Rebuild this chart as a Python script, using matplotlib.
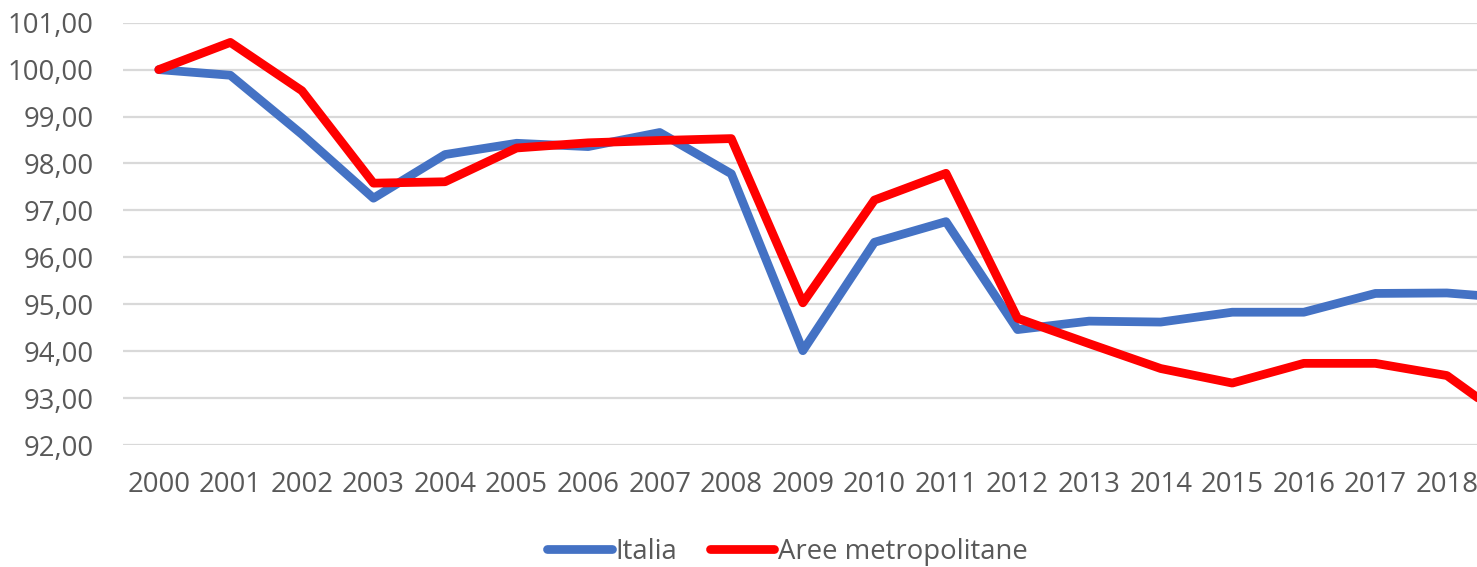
import matplotlib
matplotlib.use("Agg")
from matplotlib import pyplot as plt

years = list(range(2000, 2020))
italia = [100.00, 99.88, 98.62, 97.26, 98.19, 98.43, 98.36, 98.66, 97.78, 94.01,
          96.32, 96.76, 94.46, 94.64, 94.62, 94.83, 94.83, 95.23, 95.24, 95.12]
aree_metro = [100.00, 100.58, 99.55, 97.58, 97.61, 98.33, 98.44, 98.49, 98.53, 95.03,
              97.22, 97.79, 94.70, 94.16, 93.63, 93.32, 93.74, 93.74, 93.48, 92.38]
y_ticks = [92, 93, 94, 95, 96, 97, 98, 99, 100, 101]
x_labels = [str(y) for y in years[:-1]]

plt.rcParams['font.family'] = ['Open Sans', 'DejaVu Sans']
grey = '#595959'

fig = plt.figure(figsize=(14.77, 5.67), dpi=100)
ax = fig.add_axes([123 / 1477, 1 - 445 / 567, 1 - 123 / 1477, (445 - 22.7) / 567])

idx = list(range(len(years)))
ax.plot(idx, italia, color='#4472C4', linewidth=6.3, solid_capstyle='round', label='Italia')
ax.plot(idx, aree_metro, color='#FF0000', linewidth=6.3, solid_capstyle='round',
        label='Aree metropolitane')

ax.set_xlim(-0.5, 18.42)
ax.set_ylim(92, 101)
ax.set_yticks(y_ticks)
ax.set_yticklabels(['%d,00' % v for v in y_ticks])
ax.set_xticks(range(len(x_labels)))
ax.set_xticklabels(x_labels)
ax.grid(axis='y', color='#d9d9d9', linewidth=1.6)
ax.set_axisbelow(True)
for s in ax.spines.values():
    s.set_visible(False)
ax.tick_params(axis='both', length=0, labelsize=19.8, labelcolor=grey)
ax.tick_params(axis='y', pad=21)
ax.tick_params(axis='x', pad=19)

leg = fig.legend(loc='center', bbox_to_anchor=(0.533, 1 - 552 / 567), ncol=2, frameon=False,
                 fontsize=19.8, handlelength=2.35, handletextpad=0.12, columnspacing=1.2)
for t in leg.get_texts():
    t.set_color(grey)
for h in leg.legend_handles:
    h.set_solid_capstyle('round')

fig.savefig('out.png', dpi=100)
